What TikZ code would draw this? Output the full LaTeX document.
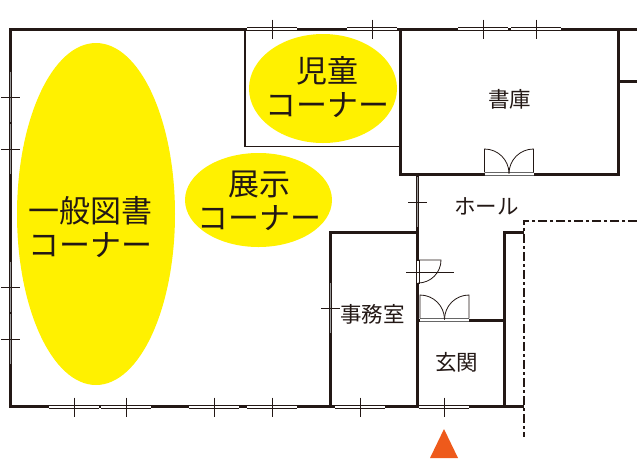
\documentclass[tikz,border=0pt]{standalone}
\usepackage{fontspec}
\setmainfont{Noto Sans CJK JP}
\usetikzlibrary{
	calc,
	positioning,
}
\definecolor{wallink}{HTML}{231815}
\definecolor{zoneyellow}{HTML}{FFF100}
\definecolor{entryorange}{HTML}{EE5A1B}
\tikzset{wall/.style={draw=wallink,line width=3pt,line cap=butt,line join=miter}}
\tikzset{thin wall/.style={draw=wallink,line width=1.3pt}}
\tikzset{tick/.style={draw=wallink,line width=1pt}}
\tikzset{door/.style={draw=wallink,line width=.8pt}}
\tikzset{zone/.style={fill=zoneyellow,draw=none}}
\tikzset{big label/.style={text=wallink,font=\fontsize{31}{33.5}\selectfont,align=center,inner sep=0pt}}
\tikzset{room label/.style={text=wallink,font=\fontsize{21.5}{25}\selectfont,inner sep=0pt}}
\tikzset{site line/.style={draw=wallink,line width=1.6pt,dash pattern=on 9pt off 3pt on 3pt off 3pt}}
\begin{document}
\begin{tikzpicture}[x=1pt,y=-1pt]
\useasboundingbox (0,0) rectangle (637,459);

% coloured zones
\fill[zone] (96,214) ellipse [x radius=79,y radius=171];
\fill[zone] (323,88.5) ellipse [x radius=74,y radius=54.5];
\fill[zone] (258.5,200) ellipse [x radius=73.5,y radius=47];

% walls
\draw[wall] (637,29) -- (10.5,29) -- (10.5,406.5) -- (524,406.5);
\draw[thin wall] (245,29) -- (245,146.5) -- (400,146.5);
\draw[wall] (400,29) -- (400,174) -- (618,174) -- (618,29);
\draw[wall] (618,81) -- (637,81);
\draw[wall] (417.5,174) -- (417.5,406.5);
\draw[wall] (330.5,406.5) -- (330.5,232.5) -- (417.5,232.5);
\draw[wall] (524,232.5) -- (504.5,232.5) -- (504.5,406.5);
\draw[wall] (417.5,320) -- (504.5,320);

% site boundary
\draw[site line] (637,221) -- (524,221) -- (524,437);

% windows along the top and bottom
\foreach \a/\y in {247/29,347/29,458/29,511/29,49/407,101/407,189/407,247/407,335/407,419/407}{
	\draw[draw=wallink,line width=3.4pt] (\a,\y) -- ++(50,0);
	\draw[draw=white,line width=1.5pt] (\a,\y) -- ++(50,0);
	\draw[tick] (\a+25,\y-9.5) -- (\a+25,\y+9.5);
}
% windows along the side walls
\foreach \a/\x in {72/10.5,124/10.5,262/10.5,314/10.5,177/417.5,283/330.5}{
	\draw[draw=wallink,line width=3.4pt] (\x,\a) -- ++(0,50);
	\draw[draw=black!40,line width=1.5pt] (\x,\a) -- ++(0,50);
	\draw[tick] (\x-9.5,\a+25) -- (\x+9.5,\a+25);
}

% double doors
\foreach \a/\y in {484.5/174,420/320}{
	\draw[draw=white,line width=3pt] (\a,\y) -- ++(49,0);
	\draw[draw=black!60,line width=.7pt] (\a,\y-1.7) -- ++(49,0) (\a,\y+1.7) -- ++(49,0);
	\draw[door] (\a,\y-1.7) -- (\a,\y-25) arc[start angle=-90,end angle=0,radius=24.5];
	\draw[door] (\a+49,\y-1.7) -- (\a+49,\y-25) arc[start angle=-90,end angle=-180,radius=24.5];
}

% single door
\draw[draw=white,line width=3pt] (417.5,260) -- (417.5,283);
\draw[door] (416,260) rectangle (419,283);
\draw[door] (417,260) -- (441,260) arc[start angle=0,end angle=90,radius=23];
\draw[tick] (406,272) -- (454,272);

% entrance mark
\fill[entryorange] (444,429) -- (458,458) -- (430,458) -- cycle;

% labels
\node[big label] (general) at (90,227) {一般図書\\コーナー};
\node[big label] (children) at (327.5,87) {児童\\コーナー};
\node[big label] (exhibit) at (259.5,201) {展示\\コーナー};
\node[room label] (stack) at (509.5,99) {書庫};
\node[room label] (hall) at (486.5,206) {ホール};
\node[room label] (office) at (372.5,314) {事務室};
\node[room label] (foyer) at (456.5,362) {玄関};
\end{tikzpicture}
\end{document}
